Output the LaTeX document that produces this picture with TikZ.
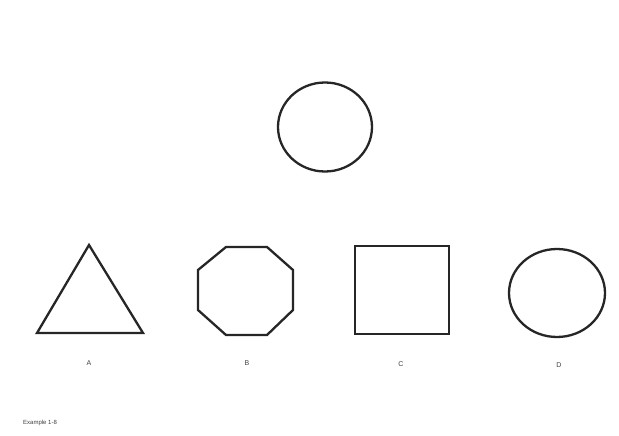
\documentclass[tikz,border=0pt]{standalone}
\usepackage{fontspec}
\setmainfont{Liberation Sans}
\begin{document}
\begin{tikzpicture}[x=1pt,y=-1pt,
  outline/.style={draw=black!85,line width=2.3pt,line join=miter},
  lbl/.style={font=\fontsize{7}{8}\selectfont,text=black!75,inner sep=0pt}]
\useasboundingbox[fill=white] (0,0) rectangle (619,436);
\draw[outline] (325,127) ellipse [x radius=47, y radius=44.5];
\draw[outline] (89,245) -- (143,333) -- (37,333) -- cycle;
\draw[outline] (226,247) -- (267,247) -- (293,270) -- (293,310) -- (267,335) -- (226,335) -- (198,310) -- (198,270) -- cycle;
\draw[outline] (355,246) rectangle (449,334);
\draw[outline] (557,293) ellipse [x radius=48, y radius=44];
\node[lbl] (A) at (89,363) {A};
\node[lbl] (B) at (247,363) {B};
\node[lbl] (C) at (401,364) {C};
\node[lbl] (D) at (559,365) {D};
\node[lbl,anchor=west,font=\fontsize{6}{7}\selectfont] (ex) at (23,423) {Example 1-8};
\end{tikzpicture}
\end{document}
